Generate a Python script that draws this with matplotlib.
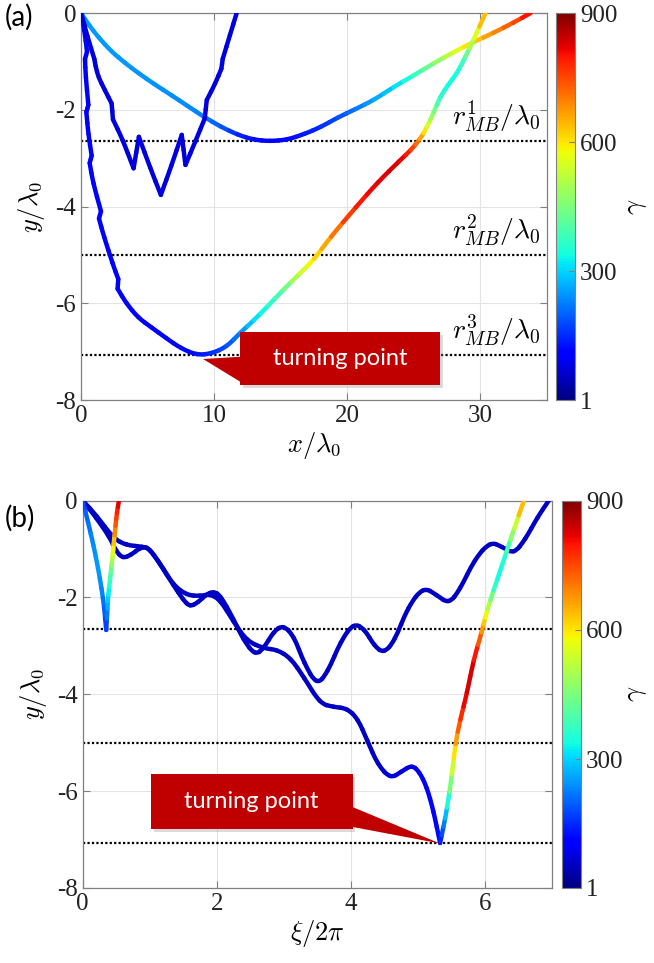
import numpy as np
import matplotlib
matplotlib.use('Agg')
import matplotlib.pyplot as plt
from matplotlib.collections import PatchCollection
from matplotlib.colors import Normalize
from matplotlib.cm import ScalarMappable
from matplotlib.patches import Rectangle, Polygon, PathPatch
from matplotlib.path import Path

# ---- panel (a): trajectories in x/lambda0, y/lambda0, coloured by gamma
a1_x = [0, 0.6, 1.3, 2.3, 3.3, 4.3, 5.5, 6.8, 8.0, 9.2, 10.5, 11.8, 13.0, 14.2, 15.5, 16.8,
        18.0, 19.3, 20.6, 22.0, 23.5, 25.0, 26.5, 28.0, 29.5, 31.0, 32.5, 33.8]
a1_y = [0, -0.25, -0.5, -0.8, -1.03, -1.24, -1.47, -1.7, -1.92, -2.14, -2.35, -2.52, -2.62, -2.65,
        -2.62, -2.5, -2.36, -2.16, -1.99, -1.8, -1.53, -1.29, -1.04, -0.81, -0.6, -0.41, -0.2, 0]
a1_g = [250, 250, 250, 250, 248, 246, 244, 240, 236, 230, 195, 150, 125, 115, 120, 132,
        150, 180, 215, 255, 300, 360, 450, 540, 620, 680, 740, 800]

a2_x = [0, 0.25, 0.45, 0.3, 0.35, 0.55, 0.4, 0.55, 0.8, 0.65, 0.9, 1.5, 1.35, 1.7, 2.4, 2.8, 2.75,
        3.4, 4.3, 5.3, 6.4, 7.5, 8.7, 9.8, 10.95, 12.0, 13.0, 14.0, 15.2, 16.5, 17.5, 18.7, 20.7,
        22.3, 24.0, 24.8, 25.5, 26.0, 26.5, 27.0, 27.6, 28.25, 28.9, 29.5, 30.4]
a2_y = [0, -0.35, -0.8, -0.95, -1.3, -1.9, -2.05, -2.5, -2.95, -3.1, -3.5, -4.1, -4.25, -4.6,
        -5.2, -5.5, -5.7, -6.0, -6.3, -6.5, -6.72, -6.93, -7.07, -7.04, -6.9, -6.6, -6.35, -6.07,
        -5.72, -5.37, -5.1, -4.65, -4.0, -3.5, -3.04, -2.83, -2.6, -2.36, -2.06, -1.73, -1.48,
        -1.25, -0.9, -0.56, 0]
a2_g = [105] * 18 + [105, 110, 115, 120, 125, 150, 180, 230, 300, 345, 410, 530, 600, 680, 790,
                     820, 830, 780, 690, 570, 460, 370, 340, 335, 400, 530, 640]
a2_corners = [2, 3, 5, 6, 8, 9, 11, 12, 15, 16]

a3_x = [0, 0.5, 1.0, 1.1, 1.3, 1.8, 2.3, 2.4, 3.1, 3.95, 4.35, 5.2, 6.0, 6.8, 7.57, 7.85, 8.6,
        9.3, 9.45, 10.1, 10.55, 10.65, 11.2, 11.7]
a3_y = [0, -0.5, -0.95, -1.1, -1.32, -1.6, -1.87, -2.2, -2.6, -3.21, -2.56, -3.2, -3.76, -3.15,
        -2.52, -3.14, -2.65, -2.18, -1.8, -1.45, -1.15, -0.95, -0.45, 0]
a3_g = [75] * 24
a3_corners = [2, 3, 6, 7, 9, 10, 12, 14, 15, 17, 18, 20, 21]

# ---- panel (b): trajectories in xi/2pi, y/lambda0
bA_x = [0, 0.08, 0.16, 0.23, 0.28, 0.32, 0.35, 0.37, 0.38, 0.41, 0.43, 0.45, 0.46, 0.49, 0.51, 0.54]
bA_y = [0, -0.45, -0.92, -1.4, -1.81, -2.2, -2.67, -2.2, -1.95, -1.6, -1.33, -1.1, -0.92, -0.5, -0.25, 0]
bA_g = [180, 210, 240, 250, 240, 210, 150, 250, 310, 380, 450, 540, 600, 720, 780, 820]
bA_corners = [6]

bB_x = [0, 0.2, 0.4, 0.5, 0.6, 0.72, 0.85, 0.95, 1.05, 1.2, 1.35, 1.5, 1.6, 1.72, 1.85, 1.95,
        2.05, 2.25, 2.4, 2.57, 2.7, 2.85, 2.99, 3.15, 3.3, 3.49, 3.65, 3.85, 4.04, 4.2, 4.35, 4.49,
        4.65, 4.85, 5.08, 5.28, 5.46, 5.62, 5.85, 6.08, 6.25, 6.43, 6.6, 6.78, 6.95]
bB_y = [0, -0.35, -0.75, -1.05, -1.19, -1.12, -0.98, -0.95, -1.1, -1.4, -1.74, -2.05, -2.19,
        -2.1, -1.93, -1.88, -1.95, -2.45, -2.88, -3.19, -3.05, -2.7, -2.57, -2.8, -3.35, -3.81,
        -3.55, -2.9, -2.53, -2.65, -3.0, -3.15, -2.9, -2.2, -1.78, -1.95, -2.13, -1.85, -1.2,
        -0.85, -0.95, -1.1, -0.8, -0.35, 0]
bB_g = [55] * 45

bC_x = [0, 0.2, 0.46, 0.65, 0.9, 1.0, 1.15, 1.35, 1.55, 1.75, 1.9, 2.05, 2.25, 2.45, 2.7, 2.9,
        3.1, 3.3, 3.54, 3.74, 3.94, 4.1, 4.24, 4.4, 4.59, 4.75, 4.91, 5.02, 5.13, 5.23, 5.33,
        5.38, 5.43, 5.51, 5.56, 5.63, 5.73, 5.83, 5.96, 6.0, 6.08, 6.18, 6.33, 6.43, 6.58]
bC_y = [0, -0.3, -0.78, -0.92, -0.95, -1.0, -1.3, -1.74, -1.95, -1.97, -1.93, -2.05, -2.5,
        -2.9, -3.05, -3.08, -3.25, -3.65, -4.19, -4.26, -4.29, -4.5, -4.94, -5.45, -5.74, -5.6,
        -5.46, -5.6, -5.91, -6.4, -7.07, -6.74, -6.39, -5.63, -5.01, -4.53, -3.98, -3.29, -2.67,
        -2.43, -2.05, -1.64, -1.02, -0.6, 0]
bC_g = [55] * 24 + [70, 75, 80, 90, 100, 110, 125, 200, 300, 500, 640, 760, 830, 830, 700,
                    600, 480, 330, 360, 500, 640]
bC_corners = [30]

r_mb = [-2.65, -5.0, -7.07]
r_labels = [r'$r^{1}_{MB}/\lambda_0$', r'$r^{2}_{MB}/\lambda_0$', r'$r^{3}_{MB}/\lambda_0$']
cb_ticks = [1, 300, 600, 900]

plt.rcParams['mathtext.fontset'] = 'cm'
plt.rcParams['axes.unicode_minus'] = False
plt.rcParams['font.family'] = 'Liberation Serif'

norm = Normalize(vmin=1, vmax=900)
GRAY = '#808080'


def draw_traj(ax, xs, ys, gs, corners=()):
    # smooth quadratic pieces through the read points, straight into sharp corners
    p = np.column_stack([xs, ys]).astype(float)
    g = np.asarray(gs, dtype=float)
    n = len(p)
    mids = (p[:-1] + p[1:]) / 2
    paths, cols = [Path([p[0], mids[0]])], [g[0]]
    for i in range(1, n - 1):
        a, b, c = mids[i - 1], p[i], mids[i]
        ab, bc = (a + b) / 2, (b + c) / 2
        m = (ab + bc) / 2
        if i in corners:
            paths += [Path([a, b]), Path([b, c])]
        else:
            q = [Path.MOVETO, Path.CURVE3, Path.CURVE3]
            paths += [Path([a, ab, m], q), Path([m, bc, c], q)]
        cols += [(g[i - 1] + 3 * g[i]) / 4, (3 * g[i] + g[i + 1]) / 4]
    paths.append(Path([mids[-1], p[-1]]))
    cols.append(g[-1])
    pc = PatchCollection([PathPatch(pp) for pp in paths], match_original=False,
                         facecolors='none', cmap='jet', norm=norm, linewidths=3.2,
                         capstyle='round', joinstyle='round', zorder=3)
    pc.set_array(np.array(cols))
    ax.add_collection(pc, autolim=False)


def style_axes(ax):
    for s in ax.spines.values():
        s.set_color(GRAY)
        s.set_linewidth(0.9)
    ax.tick_params(direction='in', length=5, width=0.8, color=GRAY,
                   top=True, right=True, labelsize=18, labelcolor='#222222')
    ax.grid(True, color='#e3e3e3', linewidth=0.8, zorder=0)
    ax.set_axisbelow(True)
    for y in r_mb:
        ax.axhline(y, color='k', ls=(0, (1, 1)), lw=1.6, zorder=2)


def callout(ax, box, wedge):
    x0, y0, x1, y1 = box
    sh = Rectangle((x0 + 0.006, y0 - 0.008), x1 - x0, y1 - y0, transform=ax.transAxes,
                   facecolor='#999999', alpha=0.35, edgecolor='none', zorder=5)
    ax.add_patch(sh)
    ax.add_patch(Polygon(wedge, closed=True, transform=ax.transAxes,
                         facecolor='#C00000', edgecolor='none', zorder=6))
    ax.add_patch(Rectangle((x0, y0), x1 - x0, y1 - y0, transform=ax.transAxes,
                           facecolor='#C00000', edgecolor='none', zorder=6))
    ax.text((x0 + x1) / 2, (y0 + y1) / 2, 'turning point', transform=ax.transAxes,
            ha='center', va='center', color='white', fontsize=17,
            family=['Lato', 'DejaVu Sans'], zorder=7)


def colorbar(fig, rect, pad):
    cax = fig.add_axes(rect)
    cb = fig.colorbar(ScalarMappable(norm=norm, cmap='jet'), cax=cax, ticks=cb_ticks)
    cb.outline.set_edgecolor(GRAY)
    cb.outline.set_linewidth(0.8)
    cax.tick_params(direction='in', length=4, color=GRAY, labelsize=18, labelcolor='#222222')
    cb.set_label(r'$\gamma$', fontsize=19, labelpad=pad)
    return cb


fig = plt.figure(figsize=(6.54, 9.63), dpi=100)

# panel (a)
ax1 = fig.add_axes([0.1239, 0.5846, 0.712, 0.4019])
style_axes(ax1)
draw_traj(ax1, a1_x, a1_y, a1_g)
draw_traj(ax1, a2_x, a2_y, a2_g, a2_corners)
draw_traj(ax1, a3_x, a3_y, a3_g, a3_corners)
ax1.set_xlim(0, 35)
ax1.set_ylim(-8, 0)
ax1.set_xticks([0, 10, 20, 30])
ax1.set_yticks([-8, -6, -4, -2, 0])
ax1.set_xlabel(r'$x/\lambda_0$', fontsize=19, labelpad=2)
ax1.set_ylabel(r'$y/\lambda_0$', fontsize=19, labelpad=6)
for y, lab in zip(r_mb, r_labels):
    ax1.text(34.6, y + 0.15, lab, ha='right', va='bottom', fontsize=20, zorder=4)
callout(ax1, (0.3414, 0.0388, 0.771, 0.1765),
        [(0.262, 0.106), (0.345, 0.112), (0.345, 0.045)])
colorbar(fig, [0.8502, 0.5846, 0.029, 0.4019], 6)
fig.text(0.008, 0.982, '(a)', fontsize=20, family=['Lato', 'DejaVu Sans'], va='center')

# panel (b)
ax2 = fig.add_axes([0.1265, 0.0779, 0.7176, 0.4022])
style_axes(ax2)
draw_traj(ax2, bB_x, bB_y, bB_g)
draw_traj(ax2, bC_x, bC_y, bC_g, bC_corners)
draw_traj(ax2, bA_x, bA_y, bA_g, bA_corners)
ax2.set_xlim(0, 7)
ax2.set_ylim(-8, 0)
ax2.set_xticks([0, 2, 4, 6])
ax2.set_yticks([-8, -6, -4, -2, 0])
ax2.set_xlabel(r'$\xi/2\pi$', fontsize=19, labelpad=2)
ax2.set_ylabel(r'$y/\lambda_0$', fontsize=19, labelpad=6)
callout(ax2, (0.145, 0.152, 0.575, 0.294),
        [(0.761, 0.115), (0.573, 0.21), (0.573, 0.158)])
colorbar(fig, [0.8589, 0.0779, 0.0295, 0.4022], 2)
fig.text(0.008, 0.462, '(b)', fontsize=20, family=['Lato', 'DejaVu Sans'], va='center')

fig.savefig('out.png', dpi=100)
